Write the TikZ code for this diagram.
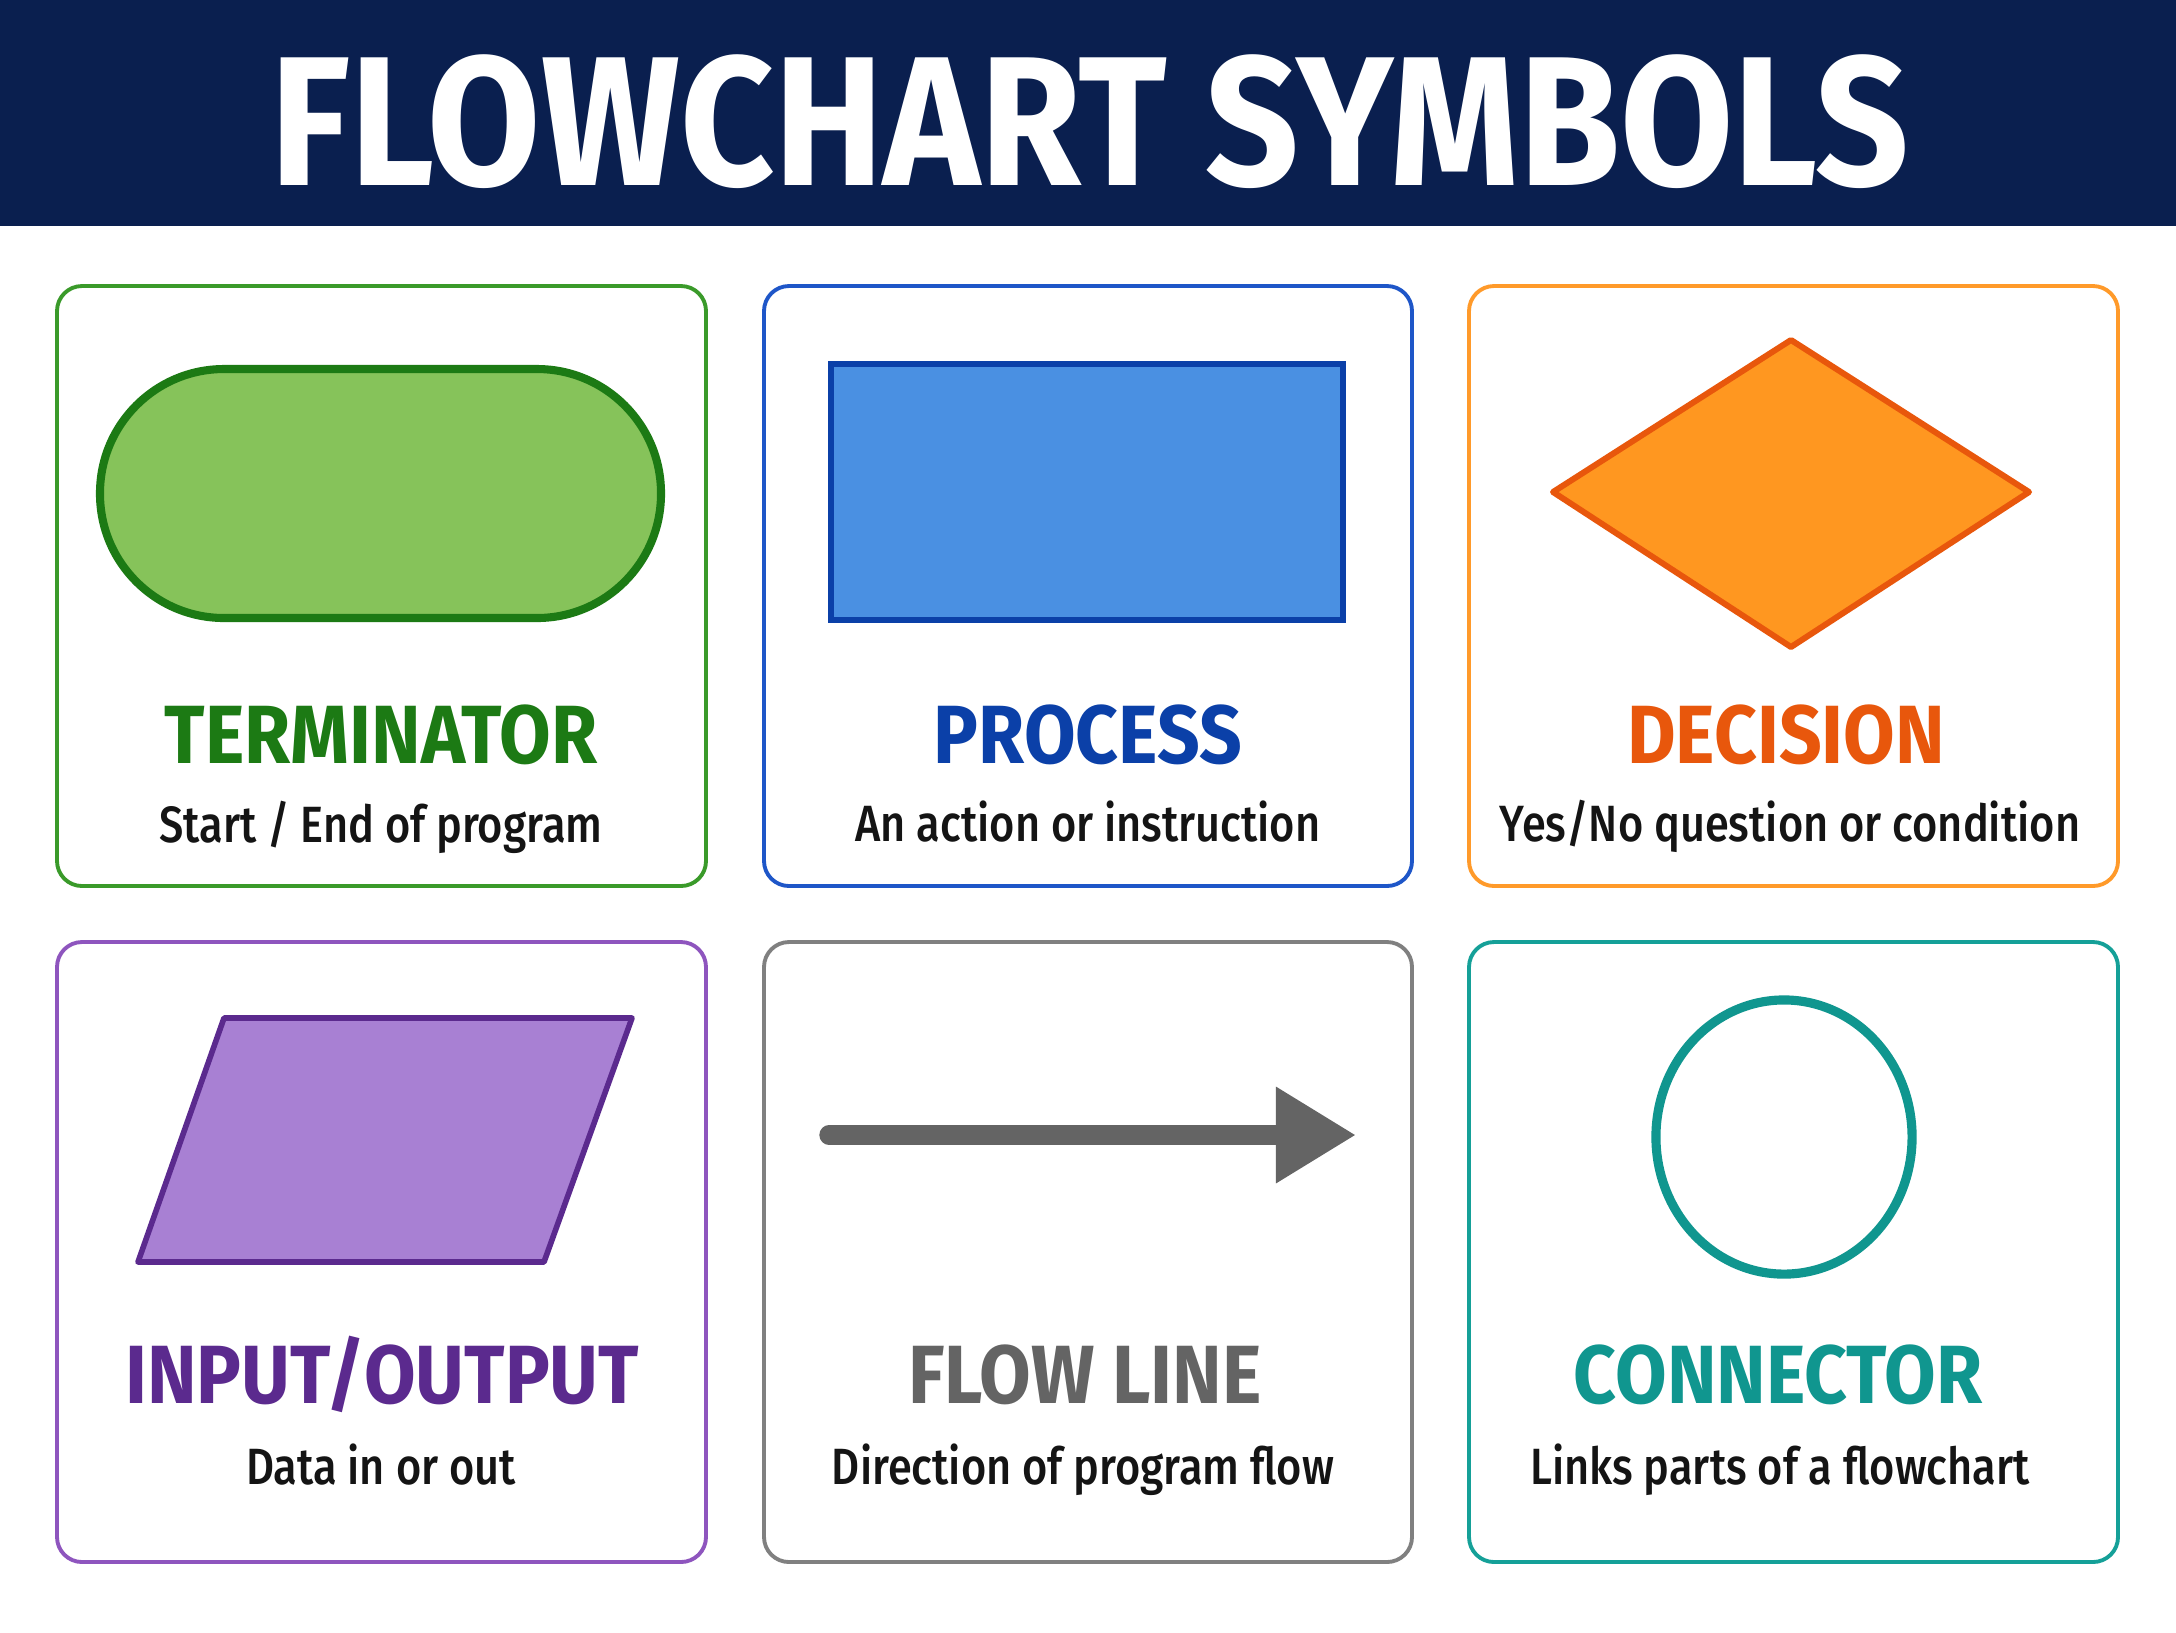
\documentclass[tikz,border=0pt]{standalone}
\usepackage{fontspec}
\setmainfont{Fira Sans}[FakeStretch=0.905]
\newfontfamily\headfont{Fira Sans}[FakeStretch=0.89]
\newfontfamily\subfont{Fira Sans Medium}[FakeStretch=0.85]
\usetikzlibrary{arrows.meta}

\definecolor{headnavy}{HTML}{0A1F4F}
\definecolor{termedge}{HTML}{3A9A2A}
\definecolor{termfill}{HTML}{86C35A}
\definecolor{termdark}{HTML}{1C7A14}
\definecolor{procedge}{HTML}{1E56C8}
\definecolor{procfill}{HTML}{4A90E2}
\definecolor{procdark}{HTML}{0B40A8}
\definecolor{decedge}{HTML}{FF9A2A}
\definecolor{decfill}{HTML}{FF9720}
\definecolor{decdark}{HTML}{E8570C}
\definecolor{ioedge}{HTML}{8E55BE}
\definecolor{iofill}{HTML}{A880D3}
\definecolor{iodark}{HTML}{5B2A8E}
\definecolor{flowedge}{HTML}{808080}
\definecolor{flowgray}{HTML}{646464}
\definecolor{connedge}{HTML}{15A098}
\definecolor{conndark}{HTML}{10968F}

\tikzset{
  card/.style={line width=1.1pt, rounded corners=0.25cm, fill=white},
  symtitle/.style={anchor=base, font=\fontsize{23.5}{28}\selectfont\bfseries},
  symtext/.style={anchor=base, text=black!92, font=\subfont\fontsize{14.5}{17}\selectfont},
}

\begin{document}
\begin{tikzpicture}[x=0.01cm, y=-0.01cm]
  \useasboundingbox (0,0) rectangle (2176,1632);
  \fill[white] (0,0) rectangle (2176,1632);

  % header band
  \fill[headnavy] (0,0) rectangle (2176,226);
  \node[anchor=base, text=white, font=\headfont\fontsize{52.4}{60}\selectfont\bfseries]
    (heading) at (1090,185) {FLOWCHART SYMBOLS};

  % terminator
  \draw[card, draw=termedge] (57,286) rectangle (706,886);
  \draw[line width=2.3pt, draw=termdark, fill=termfill, rounded corners=1.24cm]
    (100,369) rectangle (661,618);
  \node[symtitle, text=termdark] (termtitle) at (381,763) {TERMINATOR};
  \node[symtext] (termtext) at (381,842) {Start / End of program};

  % process
  \draw[card, draw=procedge] (764,286) rectangle (1412,886);
  \draw[line width=1.85pt, draw=procdark, fill=procfill] (831,364) rectangle (1343,620);
  \node[symtitle, text=procdark] (proctitle) at (1088,763) {PROCESS};
  \node[symtext] (proctext) at (1088,841) {An action or instruction};

  % decision
  \draw[card, draw=decedge] (1469,286) rectangle (2118,886);
  \draw[line width=1.7pt, draw=decdark, fill=decfill, line join=round]
    (1791,340) -- (2029,492) -- (1791,647) -- (1553,492) -- cycle;
  \node[symtitle, text=decdark] (dectitle) at (1786,763) {DECISION};
  \node[symtext] (dectext) at (1790,841) {Yes/No question or condition};

  % input / output
  \draw[card, draw=ioedge] (57,942) rectangle (706,1562);
  \draw[line width=1.6pt, draw=iodark, fill=iofill, line join=round]
    (224,1018) -- (632,1018) -- (544,1262) -- (138,1262) -- cycle;
  \node[symtitle, text=iodark] (iotitle) at (382,1403) {INPUT/OUTPUT};
  \node[symtext] (iotext) at (381,1484) {Data in or out};

  % flow line
  \draw[card, draw=flowedge] (764,942) rectangle (1412,1562);
  \coordinate (flowstart) at (829,1135);
  \coordinate (flowtip) at (1356,1135);
  \draw[line width=5.5pt, line cap=round, draw=flowgray,
        -{Triangle[length=0.8cm, width=0.91cm]}] (flowstart) -- (flowtip);
  \node[symtitle, text=flowgray] (flowtitle) at (1085,1403) {FLOW LINE};
  \node[symtext] (flowtext) at (1083,1484) {Direction of program flow};

  % connector
  \draw[card, draw=connedge] (1469,942) rectangle (2118,1562);
  \draw[line width=2.6pt, draw=conndark] (1784,1137) ellipse [x radius=1.28cm, y radius=1.37cm];
  \node[symtitle, text=conndark] (conntitle) at (1778,1403) {CONNECTOR};
  \node[symtext] (conntext) at (1780,1484) {Links parts of a flowchart};
\end{tikzpicture}
\end{document}
